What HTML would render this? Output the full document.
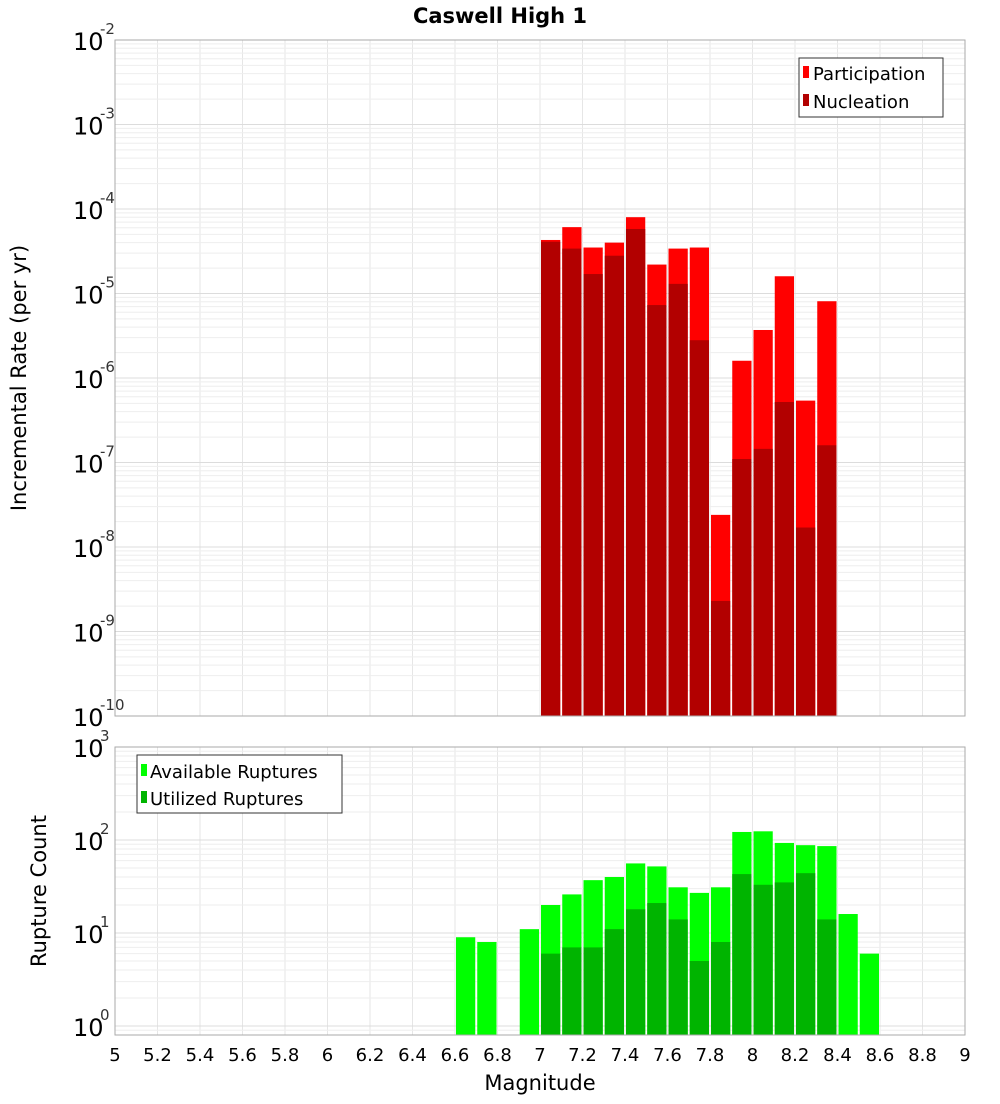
<!DOCTYPE html>
<html><head><meta charset="utf-8"><style>
body{margin:0;background:#fff;font-family:"DejaVu Sans","Liberation Sans",sans-serif}
svg text{font-family:"DejaVu Sans","Liberation Sans",sans-serif}
</style></head><body>
<svg id="c" width="1000" height="1100" xmlns="http://www.w3.org/2000/svg"></svg>
<script>
const topCenters=[7.05,7.15,7.25,7.35,7.45,7.55,7.65,7.75,7.85,7.95,8.05,8.15,8.25,8.35];
const participation=[4.3e-5,6.1e-5,3.5e-5,4e-5,8e-5,2.2e-5,3.4e-5,3.5e-5,2.4e-8,1.6e-6,3.7e-6,1.6e-5,5.4e-7,8.1e-6];
const nucleation=[4.1e-5,3.4e-5,1.7e-5,2.8e-5,5.8e-5,7.3e-6,1.3e-5,2.8e-6,2.3e-9,1.1e-7,1.45e-7,5.2e-7,1.7e-8,1.6e-7];
const availCenters=[6.65,6.75,6.95,7.05,7.15,7.25,7.35,7.45,7.55,7.65,7.75,7.85,7.95,8.05,8.15,8.25,8.35,8.45,8.55];
const available=[9,8,11,20,26,37,40,56,52,31,27,31,122,124,93,88,86,16,6];
const utilCenters=[7.05,7.15,7.25,7.35,7.45,7.55,7.65,7.75,7.85,7.95,8.05,8.15,8.25,8.35];
const utilized=[6,7,7,11,18,21,14,5,8,43,33,35,44,14];
const xTicks=[5,5.2,5.4,5.6,5.8,6,6.2,6.4,6.6,6.8,7,7.2,7.4,7.6,7.8,8,8.2,8.4,8.6,8.8,9];
const topExps=[-2,-3,-4,-5,-6,-7,-8,-9,-10];
const botExps=[3,2,1,0];

const NS='http://www.w3.org/2000/svg';
const svg=document.getElementById('c');
function mk(t,a,p){const e=document.createElementNS(NS,t);for(const k in a)e.setAttribute(k,a[k]);(p||svg).appendChild(e);return e;}
const L=115,R=965;
const X=v=>L+(v-5)/4*(R-L);
const T0=40,T1=716,B0=747,B1=1035;
const YT=v=>T0+(-2-Math.log10(v))*(T1-T0)/8;
const YB=v=>B0+(3-Math.log10(v))*93;

function grid(y0,y1,expHi,expLo,Y){
  const g=mk('g',{});
  
  
  xTicks.forEach(t=>{mk('line',{x1:X(t),x2:X(t),y1:y0,y2:y1,stroke:'#e6e6e6'},g);});
  for(let e=expLo-1;e<expHi;e++)for(let m=1;m<10;m++){const y=Y(m*Math.pow(10,e));if(y>=y0&&y<=y1)mk('line',{x1:L,x2:R,y1:y,y2:y,stroke:m==1?'#dcdcdc':'#eeeeee'},g);}
}
grid(T0,T1,-2,-10,YT);
grid(B0,B1,3,0,YB);

function bars(centers,vals,Y,base,color,name){
  centers.forEach((c,i)=>{const y=Y(vals[i]);
    const r=mk('rect',{x:X(c-0.05)+1,y:y,width:X(0.1)-X(0)-2,height:base-y,fill:color});
    
    });
}
bars(topCenters,participation,YT,T1,'#ff0000','participation');
bars(topCenters,nucleation,YT,T1,'#b20000','nucleation');
bars(availCenters,available,YB,B1,'#00ff00','available');
bars(utilCenters,utilized,YB,B1,'#00b400','utilized');

mk('rect',{x:L,y:T0,width:R-L,height:T1-T0,fill:'none',stroke:'#aaa'});
mk('rect',{x:L,y:B0,width:R-L,height:B1-B0,fill:'none',stroke:'#aaa'});

function ylabels(exps,Y,name){
  exps.forEach(e=>{const y=Y(Math.pow(10,e));
    const t=mk('text',{x:73,y:y+10,'font-size':24,fill:'#000'});
    
    
    t.textContent='10';
    const s=mk('text',{x:100,y:y-6,'font-size':15,fill:'#333'});
    s.textContent=String(e);});
}
ylabels(topExps,YT,'top-y');
ylabels(botExps,YB,'bottom-y');

xTicks.forEach(t=>{const e=mk('text',{x:X(t),y:1061,'font-size':18,'text-anchor':'middle',fill:'#000'});
  
  
  e.textContent=String(t);});
</script>
<svg style="position:absolute;left:0;top:0" width="1000" height="1100" xmlns="http://www.w3.org/2000/svg">
<text x="500" y="23" font-size="21" font-weight="bold" text-anchor="middle">Caswell High 1</text>
<text x="540" y="1090" font-size="21" text-anchor="middle">Magnitude</text>
<text transform="translate(26,378) rotate(-90)" font-size="21" text-anchor="middle">Incremental Rate (per yr)</text>
<text transform="translate(46,891) rotate(-90)" font-size="21" text-anchor="middle">Rupture Count</text>
<g>
<rect x="799" y="58" width="144" height="59" fill="#fff" stroke="#333"/>
<rect x="803" y="66" width="6" height="12" fill="#ff0000"/>
<text x="813" y="80" font-size="18">Participation</text>
<rect x="803" y="94" width="6" height="12" fill="#b20000"/>
<text x="813" y="108" font-size="18">Nucleation</text>
</g>
<g>
<rect x="137" y="755" width="205" height="58" fill="#fff" stroke="#333"/>
<rect x="141" y="764" width="6" height="12" fill="#00ff00"/>
<text x="150" y="778" font-size="18">Available Ruptures</text>
<rect x="141" y="791" width="6" height="12" fill="#00b400"/>
<text x="150" y="805" font-size="18">Utilized Ruptures</text>
</g>
</svg>
</body></html>
